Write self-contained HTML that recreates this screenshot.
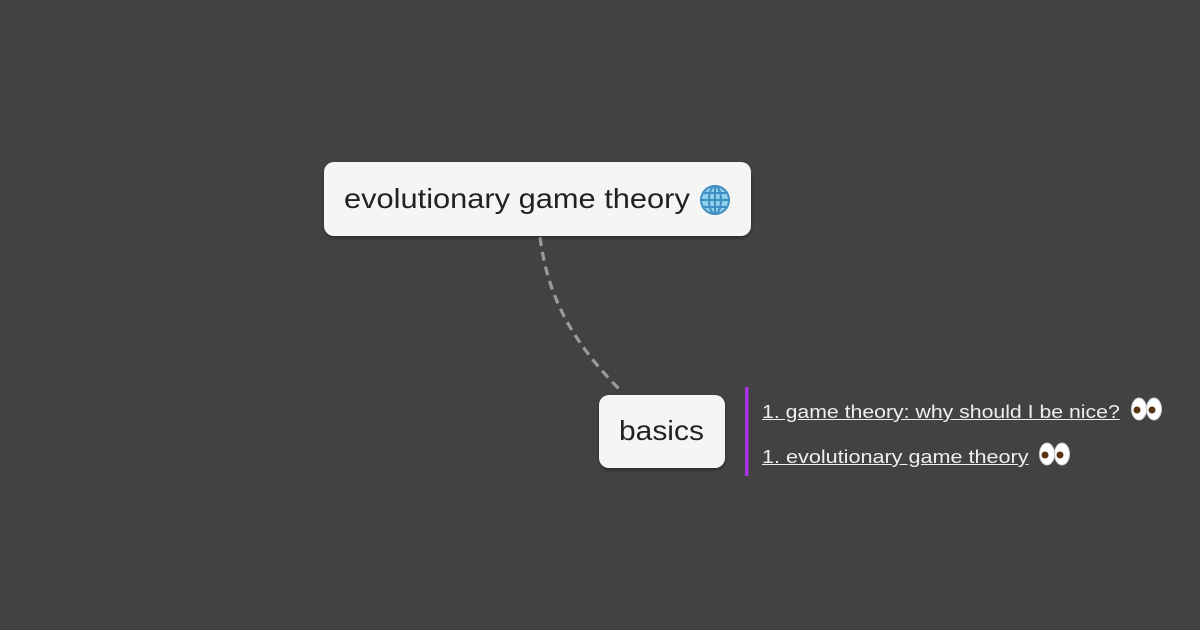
<!DOCTYPE html>
<html><head><style>
body{margin:0;width:1200px;height:630px;background:#424242;position:relative;overflow:hidden;font-family:"Liberation Sans",sans-serif}
.box{position:absolute;background:#f5f5f5;border-radius:10px;box-shadow:0 2px 3px rgba(0,0,0,.35);color:#222;box-sizing:border-box}
.lnk{position:absolute;left:762px;color:#eee;font-size:18px;text-decoration:underline;white-space:nowrap;transform-origin:0 0}
</style></head><body>
<svg width="1200" height="630" style="position:absolute;left:0;top:0">
<path d="M540 237 C548 300 575 345 622 392" stroke="#9a9a9a" stroke-width="3.2" fill="none" stroke-dasharray="9,6"/>
<rect x="745" y="387" width="3.5" height="89" fill="#a834e8"/>
</svg>
<div class="box" style="left:324px;top:162px;width:427px;height:74px">
<span style="position:absolute;left:20px;top:21px;font-size:28px;transform:scaleX(1.1);transform-origin:0 0;white-space:nowrap">evolutionary game theory</span>
<svg style="position:absolute;left:375px;top:22px" width="32" height="32" viewBox="0 0 32 32"><circle cx="16" cy="16" r="14" fill="#8fd0ec" stroke="#3d8fc0" stroke-width="2"/><ellipse cx="16" cy="16" rx="6" ry="14" fill="none" stroke="#3d8fc0" stroke-width="2"/><path d="M2 16H30M5 9H27M5 23H27M16 2V30" stroke="#3d8fc0" stroke-width="2"/></svg>
</div>
<div class="box" style="left:599px;top:395px;width:126px;height:73px">
<span style="position:absolute;left:20px;top:20px;font-size:28px;transform:scaleX(1.07);transform-origin:0 0">basics</span>
</div>
<div class="lnk" style="top:402px;transform:scaleX(1.18)">1. game theory: why should I be nice? </div>
<div class="lnk" style="top:447px;transform:scaleX(1.2)">1. evolutionary game theory </div>
<svg style="position:absolute;left:1130px;top:395px" width="34" height="30"><ellipse cx="9" cy="14" rx="7.5" ry="11" fill="#fff" stroke="#ccc"/><ellipse cx="24" cy="14" rx="7.5" ry="11" fill="#fff" stroke="#ccc"/><circle cx="7" cy="15" r="3.5" fill="#5a3410"/><circle cx="22" cy="15" r="3.5" fill="#5a3410"/></svg>
<svg style="position:absolute;left:1038px;top:440px" width="34" height="30"><ellipse cx="9" cy="14" rx="7.5" ry="11" fill="#fff" stroke="#ccc"/><ellipse cx="24" cy="14" rx="7.5" ry="11" fill="#fff" stroke="#ccc"/><circle cx="7" cy="15" r="3.5" fill="#5a3410"/><circle cx="22" cy="15" r="3.5" fill="#5a3410"/></svg>
</body></html>
